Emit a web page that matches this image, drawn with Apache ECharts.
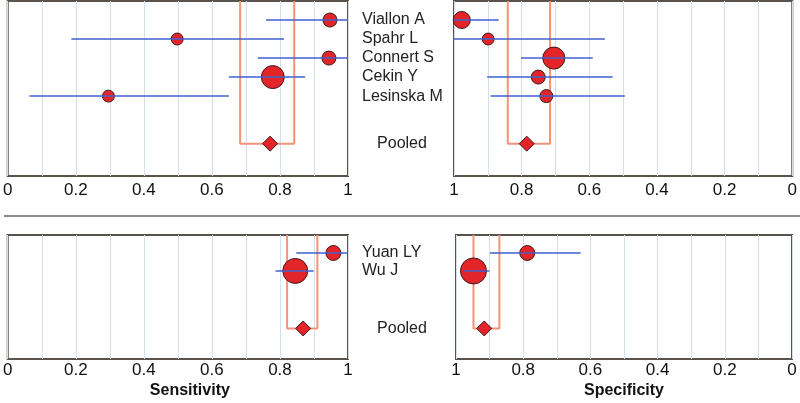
<!DOCTYPE html>
<html><head><meta charset="utf-8">
<script src="https://cdn.jsdelivr.net/npm/echarts@6/dist/echarts.min.js"></script>
<style>html,body{margin:0;padding:0;background:#fff}#c{width:800px;height:403px}</style>
</head><body><div id="c"></div>
<script>
// ---- data: top block ----
const studiesA = ['Viallon A', 'Spahr L', 'Connert S', 'Cekin Y', 'Lesinska M'];
const rowsA = [1, 2, 3, 4, 5];
const pooledRowA = 7.5;
const sensA = [0.947, 0.498, 0.944, 0.779, 0.296];
const sensLoA = [0.759, 0.187, 0.735, 0.650, 0.064];
const sensHiA = [1.000, 0.812, 1.000, 0.874, 0.650];
const sensWtA = [29, 21, 29, 78, 21];
const specA = [0.977, 0.899, 0.705, 0.751, 0.727];
const specLoA = [0.868, 0.554, 0.590, 0.531, 0.495];
const specHiA = [1.000, 1.000, 0.802, 0.902, 0.892];
const specWtA = [43, 21, 72, 29, 25];
const pooledSensA = [0.771, 0.683, 0.842]; // estimate, lower, upper
const pooledSpecA = [0.785, 0.716, 0.841];

// ---- data: bottom block ----
const studiesB = ['Yuan LY', 'Wu J'];
const rowsB = [1, 2];
const pooledRowB = 5.2;
const sensB = [0.957, 0.845];
const sensLoB = [0.848, 0.787];
const sensHiB = [1.000, 0.899];
const sensWtB = [33, 92];
const specB = [0.788, 0.948];
const specLoB = [0.629, 0.901];
const specHiB = [0.899, 0.975];
const specWtB = [33, 100];
const pooledSensB = [0.868, 0.821, 0.910];
const pooledSpecB = [0.916, 0.871, 0.948];

const tickLabels = [0, 0.2, 0.4, 0.6, 0.8, 1];
const pooledLabel = 'Pooled';

const FONT = 'Liberation Sans, Arial, sans-serif';
const RED = '#e3252a', BLUE = '#4060cc', ORANGE = '#f39378', FRAME = '#5a534b', GRID = '#d6dee9';

const grids = [
  {left: 7, top: 1, width: 341, height: 175},
  {left: 454, top: 1, width: 340, height: 175},
  {left: 5, top: 235, width: 343, height: 124},
  {left: 456, top: 235, width: 336, height: 124}
].map(g => Object.assign({show: true, borderColor: FRAME, borderWidth: 2, backgroundColor: 'transparent', containLabel: false}, g));

function xAx(i, inverse, name, namePad) {
  return {
    gridIndex: i, type: 'value', min: 0, max: 1, interval: 0.1, inverse: inverse,
    axisLine: {show: false}, axisTick: {show: false},
    splitLine: {show: true, lineStyle: {color: GRID, width: 1}},
    axisLabel: {
      margin: i < 2 ? 6 : 3, fontSize: 17, color: '#111', fontFamily: FONT,
      formatter: v => {
        const t = tickLabels.find(x => Math.abs(x - v) < 1e-6);
        return t === undefined ? '' : String(t);
      }
    },
    name: name || '', nameLocation: 'middle', nameGap: 24,
    nameTextStyle: {fontSize: 16, fontWeight: 'bold', color: '#111', fontFamily: FONT, padding: namePad || 0}
  };
}
function yAx(i, max) {
  return {gridIndex: i, type: 'value', min: 0, max: max, inverse: true, show: false, splitLine: {show: false}};
}

function panel(i, vals, lo, hi, wts, rows, pooled, pooledRow) {
  return [
    {
      type: 'line', xAxisIndex: i, yAxisIndex: i, z: 2, symbol: 'none', silent: true,
      lineStyle: {color: ORANGE, width: 2},
      data: [[pooled[1], 0], [pooled[1], pooledRow], [pooled[2], pooledRow], [pooled[2], 0]]
    },
    {
      type: 'scatter', xAxisIndex: i, yAxisIndex: i, z: 3,
      data: vals.map((v, k) => [v, rows[k], wts[k]]),
      symbolSize: d => 2.6 * Math.sqrt(d[2]),
      itemStyle: {color: RED, borderColor: '#3e1818', borderWidth: 1, opacity: 1}
    },
    {
      type: 'custom', xAxisIndex: i, yAxisIndex: i, z: 4,
      data: lo.map((l, k) => [l, hi[k], rows[k]]),
      encode: {x: [0, 1], y: 2},
      renderItem: (params, api) => {
        const p1 = api.coord([api.value(0), api.value(2)]);
        const p2 = api.coord([api.value(1), api.value(2)]);
        return {type: 'line', shape: {x1: p1[0], y1: p1[1], x2: p2[0], y2: p2[1]},
                style: {stroke: BLUE, lineWidth: 1.5}};
      }
    },
    {
      type: 'scatter', xAxisIndex: i, yAxisIndex: i, z: 5, symbol: 'diamond', symbolSize: 15,
      data: [[pooled[0], pooledRow]],
      itemStyle: {color: RED, borderColor: '#3e1818', borderWidth: 1, opacity: 1}
    }
  ];
}

const chart = echarts.init(document.getElementById('c'), null, {renderer: 'canvas'});
const option = {
  animation: false,
  backgroundColor: '#fff',
  grid: grids,
  xAxis: [xAx(0, false), xAx(1, true), xAx(2, false, 'Sensitivity', [0, 0, 0, 24]), xAx(3, true, 'Specificity')],
  yAxis: [yAx(0, 9.2), yAx(1, 9.2), yAx(2, 6.9), yAx(3, 6.9)],
  series: [].concat(
    panel(0, sensA, sensLoA, sensHiA, sensWtA, rowsA, pooledSensA, pooledRowA),
    panel(1, specA, specLoA, specHiA, specWtA, rowsA, pooledSpecA, pooledRowA),
    panel(2, sensB, sensLoB, sensHiB, sensWtB, rowsB, pooledSensB, pooledRowB),
    panel(3, specB, specLoB, specHiB, specWtB, rowsB, pooledSpecB, pooledRowB)
  )
};
chart.setOption(option);

// names column, placed at the rows' pixel positions
const graphics = [{type: 'line', shape: {x1: 4, y1: 216, x2: 800, y2: 216}, style: {stroke: '#666', lineWidth: 1.5}, silent: true}];
function addNames(gi, names, rows, pooledRow) {
  names.forEach((n, k) => {
    const y = chart.convertToPixel({gridIndex: gi}, [0, rows[k]])[1];
    graphics.push({type: 'text', x: 362, y: y, style: {text: n, fontSize: 16, fontFamily: FONT, fill: '#222', verticalAlign: 'middle', align: 'left'}});
  });
  const py = chart.convertToPixel({gridIndex: gi}, [0, pooledRow])[1];
  graphics.push({type: 'text', x: 402, y: py, style: {text: pooledLabel, fontSize: 16, fontFamily: FONT, fill: '#222', verticalAlign: 'middle', align: 'center'}});
}
addNames(0, studiesA, rowsA, pooledRowA);
addNames(2, studiesB, rowsB, pooledRowB);
chart.setOption({graphic: graphics});
</script></body></html>
